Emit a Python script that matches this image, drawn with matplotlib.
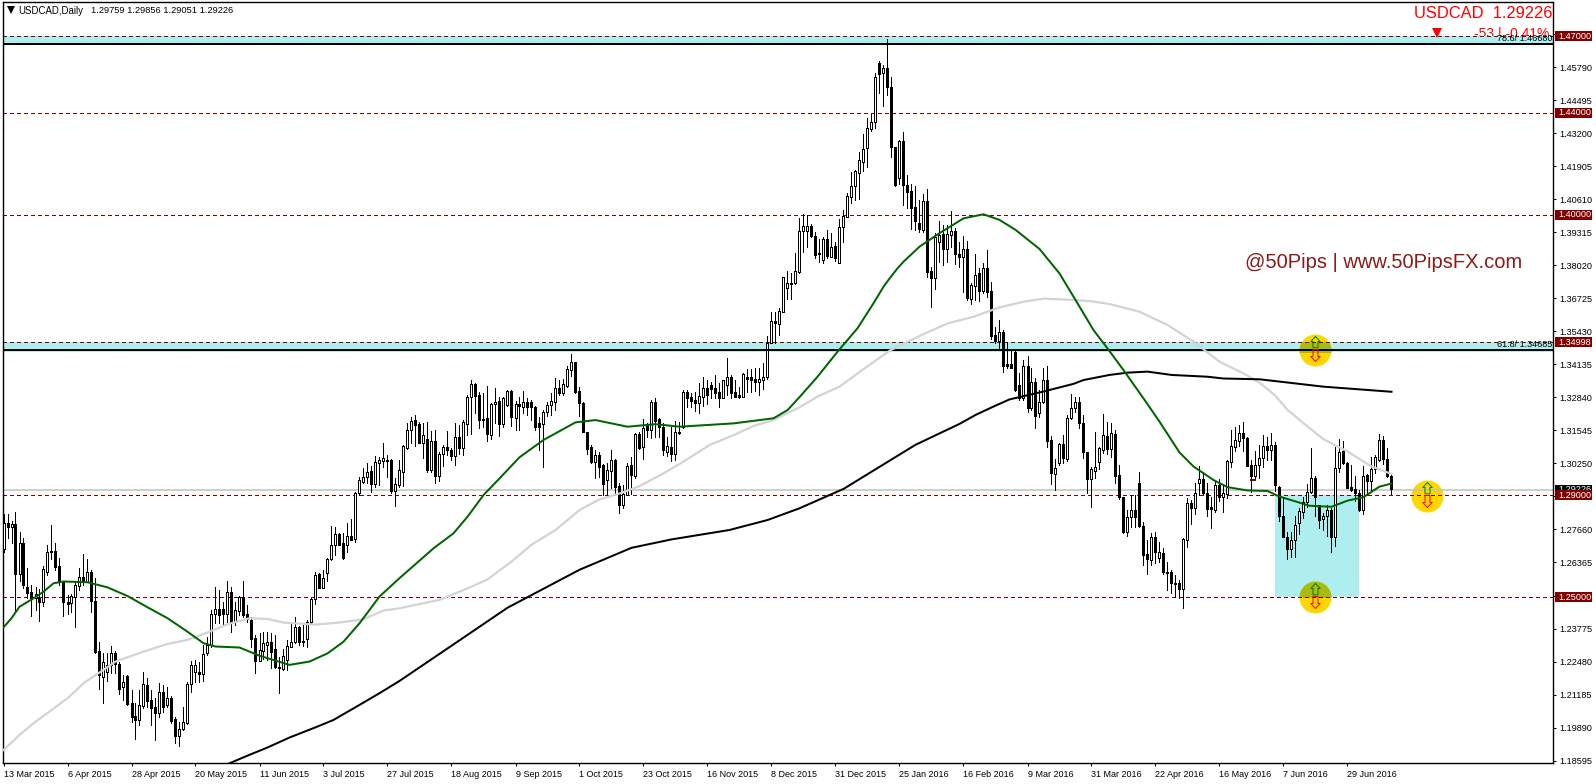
"""USDCAD daily candles with moving averages and levels."""
import numpy as np
import matplotlib
matplotlib.use("Agg")
import matplotlib.pyplot as plt
from matplotlib.patches import Rectangle
from matplotlib.path import Path
from matplotlib.transforms import blended_transform_factory

# prices are kept in 1/10000 units
opens = [
    12688, 12790, 12775, 12788, 12590, 12712, 12542, 12520, 12496, 12496,
    12483, 12598, 12677, 12683, 12623, 12559, 12483, 12479, 12503, 12546,
    12579, 12559, 12601, 12486, 12290, 12189, 12209, 12235, 12283, 12239,
    12147, 12192, 12084, 12035, 12019, 12075, 12156, 12097, 12069, 12048,
    12130, 12078, 12107, 12024, 11958, 11984, 12006, 12159, 12209, 12209,
    12198, 12283, 12313, 12433, 12454, 12453, 12435, 12522, 12402, 12448,
    12503, 12435, 12411, 12339, 12252, 12291, 12311, 12324, 12296, 12228,
    12218, 12254, 12307, 12324, 12385, 12329, 12335, 12402, 12492, 12592,
    12535, 12597, 12649, 12705, 12747, 12712, 12705, 12741, 12727, 12910,
    12953, 12973, 12995, 12945, 13028, 13036, 13037, 13038, 12918, 12940,
    12993, 13087, 13155, 13194, 13179, 13106, 13119, 12999, 13113, 12977,
    13062, 13089, 13077, 13055, 13128, 13087, 13178, 13285, 13336, 13293,
    13198, 13202, 13136, 13257, 13268, 13178, 13254, 13309, 13204, 13258,
    13247, 13266, 13267, 13245, 13182, 13178, 13226, 13253, 13267, 13319,
    13302, 13330, 13391, 13423, 13309, 13263, 13147, 13088, 13029, 13058,
    13019, 12960, 12996, 13038, 12936, 12862, 12901, 13019, 12977, 13140,
    13088, 13179, 13158, 13267, 13198, 13169, 13071, 13090, 13060, 13149,
    13169, 13305, 13284, 13272, 13260, 13287, 13319, 13332, 13319, 13306,
    13283, 13332, 13362, 13306, 13292, 13287, 13362, 13362, 13356, 13343,
    13352, 13365, 13496, 13583, 13572, 13620, 13714, 13730, 13731, 13776,
    13935, 13935, 13955, 13917, 13851, 13823, 13904, 13836, 13878, 13810,
    13951, 13993, 14071, 14111, 14163, 14209, 14260, 14337, 14363, 14596,
    14555, 14575, 14500, 14265, 14143, 14290, 14117, 14094, 14030, 13967,
    13941, 14054, 13780, 13751, 13895, 13925, 13865, 13922, 13937, 13847,
    13833, 13865, 13669, 13722, 13771, 13701, 13790, 13701, 13529, 13505,
    13539, 13414, 13414, 13463, 13333, 13280, 13407, 13244, 13343, 13222,
    13267, 13352, 13117, 12982, 13025, 13100, 13044, 13202, 13241, 13265,
    13182, 13069, 12963, 12997, 13032, 13078, 13133, 13083, 13139, 12980,
    12895, 12755, 12814, 12842, 12947, 12780, 12669, 12646, 12735, 12656,
    12673, 12601, 12601, 12555, 12555, 12531, 12723, 12869, 12852, 12950,
    12963, 12908, 12853, 12843, 12941, 12895, 12906, 13032, 13091, 13111,
    13143, 13124, 13019, 12976, 13017, 13045, 13094, 13076, 13098, 12932,
    12819, 12738, 12690, 12723, 12791, 12836, 12872, 12911, 12967, 12862,
    12806, 12817, 12843, 12738, 13006, 13072, 13026, 12932, 12924, 12908,
    12843, 12980, 12958, 13004, 13039, 13117, 13042, 12976]
closes = [
    12790, 12775, 12786, 12590, 12712, 12548, 12518, 12496, 12512, 12483,
    12610, 12677, 12683, 12620, 12559, 12483, 12475, 12507, 12548, 12579,
    12559, 12598, 12486, 12287, 12196, 12248, 12235, 12280, 12239, 12141,
    12169, 12082, 12032, 12019, 12078, 12159, 12095, 12067, 12048, 12128,
    12071, 12104, 12016, 11958, 11984, 12012, 12159, 12235, 12235, 12198,
    12278, 12313, 12433, 12454, 12431, 12433, 12520, 12398, 12450, 12503,
    12431, 12415, 12335, 12252, 12294, 12320, 12324, 12287, 12228, 12222,
    12270, 12309, 12326, 12385, 12326, 12324, 12402, 12494, 12588, 12538,
    12575, 12649, 12705, 12747, 12705, 12653, 12741, 12725, 12910, 12960,
    12970, 12993, 12945, 13029, 13038, 13045, 13035, 12918, 12943, 12999,
    13093, 13155, 13190, 13177, 13106, 13136, 12999, 13113, 12977, 13062,
    13091, 13077, 13055, 13127, 13087, 13186, 13285, 13336, 13289, 13195,
    13195, 13139, 13258, 13267, 13178, 13280, 13308, 13208, 13258, 13250,
    13264, 13247, 13245, 13169, 13169, 13225, 13253, 13268, 13319, 13302,
    13335, 13395, 13421, 13304, 13263, 13149, 13081, 13029, 13058, 13012,
    12943, 12999, 13038, 12934, 12862, 12905, 13016, 12979, 13139, 13084,
    13162, 13156, 13267, 13191, 13169, 13077, 13093, 13062, 13148, 13143,
    13304, 13280, 13271, 13260, 13289, 13319, 13293, 13315, 13300, 13283,
    13352, 13362, 13302, 13287, 13287, 13375, 13356, 13352, 13343, 13356,
    13362, 13496, 13583, 13577, 13623, 13755, 13731, 13731, 13778, 13935,
    13955, 13955, 13918, 13842, 13845, 13904, 13838, 13875, 13829, 13951,
    13996, 14074, 14111, 14171, 14213, 14257, 14339, 14363, 14539, 14552,
    14575, 14500, 14265, 14117, 14290, 14115, 14091, 14026, 13977, 13943,
    14054, 13777, 13751, 13911, 13921, 13866, 13925, 13937, 13847, 13833,
    13865, 13673, 13725, 13764, 13701, 13790, 13699, 13525, 13505, 13539,
    13408, 13408, 13401, 13313, 13280, 13407, 13244, 13343, 13212, 13267,
    13352, 13114, 12986, 13006, 13100, 13045, 13202, 13241, 13267, 13185,
    13071, 12963, 13003, 13010, 13087, 13135, 13082, 13143, 12977, 12895,
    12757, 12814, 12842, 12814, 12780, 12666, 12650, 12735, 12679, 12676,
    12598, 12597, 12555, 12551, 12531, 12727, 12869, 12852, 12908, 12963,
    12908, 12847, 12845, 12941, 12895, 12908, 13035, 13094, 13117, 13143,
    13123, 13015, 12976, 13019, 13045, 13094, 13076, 13098, 12941, 12817,
    12736, 12690, 12725, 12783, 12839, 12872, 12912, 12967, 12895, 12804,
    12819, 12843, 12738, 13006, 13069, 13026, 12930, 12919, 12908, 12843,
    12977, 12958, 13004, 13052, 13115, 13042, 12974, 12923]
highs = [
    12827, 12827, 12799, 12833, 12758, 12731, 12614, 12548, 12542, 12531,
    12623, 12705, 12784, 12712, 12653, 12562, 12509, 12513, 12562, 12614,
    12669, 12649, 12607, 12575, 12326, 12280, 12280, 12309, 12291, 12248,
    12196, 12196, 12137, 12084, 12137, 12206, 12182, 12137, 12104, 12163,
    12156, 12147, 12111, 12032, 12012, 12069, 12169, 12252, 12254, 12248,
    12313, 12346, 12450, 12542, 12529, 12483, 12565, 12539, 12483, 12505,
    12564, 12470, 12424, 12352, 12359, 12362, 12365, 12359, 12352, 12267,
    12296, 12333, 12405, 12424, 12388, 12392, 12411, 12496, 12601, 12594,
    12607, 12653, 12780, 12777, 12751, 12751, 12790, 12806, 12914, 12970,
    13006, 13025, 13015, 13054, 13049, 13104, 13058, 13041, 12966, 13038,
    13097, 13182, 13208, 13215, 13189, 13182, 13189, 13152, 13156, 13071,
    13097, 13153, 13084, 13182, 13176, 13195, 13293, 13352, 13339, 13306,
    13300, 13328, 13263, 13319, 13287, 13287, 13313, 13313, 13271, 13287,
    13309, 13280, 13273, 13250, 13208, 13234, 13267, 13300, 13361, 13352,
    13358, 13407, 13456, 13424, 13326, 13267, 13149, 13097, 13077, 13071,
    13021, 13025, 13077, 13041, 12947, 12940, 13025, 13051, 13143, 13149,
    13198, 13182, 13273, 13280, 13202, 13182, 13130, 13169, 13192, 13189,
    13313, 13313, 13300, 13306, 13339, 13365, 13352, 13345, 13372, 13339,
    13352, 13437, 13372, 13352, 13326, 13378, 13394, 13394, 13398, 13398,
    13417, 13525, 13620, 13620, 13633, 13755, 13781, 13770, 13849, 13986,
    14003, 13999, 13964, 13934, 13904, 13912, 13940, 13927, 13895, 13982,
    14019, 14084, 14166, 14176, 14248, 14317, 14379, 14396, 14555, 14603,
    14588, 14690, 14542, 14267, 14294, 14324, 14156, 14121, 14113, 14058,
    14082, 14100, 13797, 13928, 13977, 13960, 13960, 14013, 13947, 13895,
    13915, 13899, 13732, 13847, 13790, 13810, 13860, 13735, 13561, 13588,
    13548, 13503, 13470, 13470, 13378, 13431, 13446, 13398, 13359, 13313,
    13398, 13407, 13133, 13041, 13104, 13137, 13215, 13296, 13284, 13284,
    13215, 13071, 13012, 13147, 13091, 13218, 13189, 13182, 13156, 13019,
    12895, 12842, 12901, 12901, 12990, 12797, 12725, 12751, 12757, 12718,
    12692, 12640, 12607, 12588, 12568, 12731, 12889, 12882, 12947, 13015,
    12993, 12947, 12895, 12954, 12963, 12941, 13039, 13157, 13167, 13176,
    13187, 13130, 13039, 13072, 13098, 13137, 13130, 13143, 13108, 12937,
    12889, 12758, 12758, 12817, 12849, 12895, 12945, 13085, 12974, 12862,
    12830, 12862, 12849, 13089, 13121, 13111, 13032, 13019, 12974, 12921,
    13013, 12983, 13052, 13059, 13141, 13133, 13085, 12986]
lows = [
    12679, 12731, 12712, 12448, 12562, 12535, 12496, 12428, 12450, 12409,
    12466, 12588, 12650, 12607, 12548, 12427, 12435, 12444, 12385, 12529,
    12548, 12559, 12444, 12280, 12141, 12087, 12173, 12202, 12202, 12121,
    12097, 12078, 12012, 11945, 11999, 12065, 12071, 11999, 11941, 12032,
    12052, 12071, 12006, 11928, 11917, 11980, 12003, 12130, 12169, 12169,
    12173, 12274, 12307, 12398, 12398, 12392, 12405, 12365, 12392, 12431,
    12424, 12405, 12307, 12202, 12252, 12257, 12254, 12222, 12222, 12126,
    12215, 12215, 12307, 12320, 12313, 12309, 12304, 12398, 12473, 12538,
    12535, 12562, 12646, 12666, 12705, 12649, 12679, 12725, 12718, 12901,
    12947, 12947, 12914, 12934, 12940, 13012, 12973, 12910, 12858, 12934,
    12936, 13080, 13104, 13093, 13104, 13045, 12993, 12993, 12947, 12957,
    13015, 13058, 13038, 13019, 13062, 13058, 13136, 13139, 13221, 13162,
    13169, 13113, 13119, 13182, 13132, 13169, 13250, 13172, 13156, 13156,
    13221, 13215, 13195, 13156, 13077, 13012, 13211, 13215, 13234, 13293,
    13293, 13326, 13368, 13300, 13211, 13149, 13062, 13025, 12966, 12973,
    12901, 12901, 12927, 12907, 12832, 12851, 12901, 12907, 12966, 13080,
    13041, 13130, 13123, 13130, 13130, 13058, 13054, 13036, 13038, 13140,
    13162, 13247, 13245, 13232, 13224, 13250, 13258, 13280, 13280, 13245,
    13280, 13293, 13280, 13287, 13280, 13287, 13306, 13306, 13309, 13293,
    13315, 13355, 13496, 13499, 13529, 13620, 13670, 13670, 13727, 13773,
    13853, 13875, 13914, 13829, 13816, 13810, 13829, 13833, 13820, 13810,
    13895, 13993, 14048, 14058, 14061, 14172, 14186, 14330, 14339, 14479,
    14427, 14470, 14226, 14111, 14121, 14039, 14028, 13946, 13941, 13934,
    13934, 13755, 13637, 13708, 13816, 13803, 13816, 13875, 13807, 13797,
    13699, 13666, 13650, 13666, 13660, 13692, 13679, 13512, 13496, 13470,
    13385, 13398, 13398, 13310, 13274, 13274, 13228, 13235, 13165, 13208,
    13261, 13091, 12944, 12921, 13019, 13028, 13036, 13199, 13228, 13165,
    13048, 12908, 12856, 12967, 13002, 13067, 13062, 13052, 12950, 12884,
    12751, 12742, 12777, 12777, 12777, 12627, 12591, 12627, 12633, 12640,
    12591, 12529, 12516, 12500, 12496, 12459, 12696, 12788, 12827, 12902,
    12904, 12817, 12770, 12836, 12876, 12836, 12889, 13010, 13074, 13094,
    13072, 13013, 12911, 12963, 12967, 13010, 13039, 13039, 12915, 12801,
    12736, 12651, 12660, 12660, 12749, 12810, 12856, 12908, 12817, 12771,
    12762, 12741, 12676, 12702, 12993, 13023, 12928, 12915, 12879, 12840,
    12827, 12902, 12921, 12987, 13036, 13023, 12971, 12905]

green_bars = [0, 2, 4, 7.5, 10, 12.5, 15, 21, 26, 31, 36, 41, 46, 50, 53, 59,
              64, 67.5, 71.5, 76.5, 81, 85, 89, 94, 99, 107.5, 112.5, 116,
              120, 124, 129, 135, 143, 148, 156, 163, 169, 182.5, 192.5, 196,
              199, 203.5, 208.5, 213.5, 217.5, 220, 221.5, 223.5, 225, 229,
              234, 240, 245, 249, 253, 259, 264, 268, 272.5, 276, 280, 285,
              289, 294, 297.5, 302.5, 306, 311, 316, 319, 323, 326.5, 332,
              336, 340, 344, 347]
green_vals = [12382, 12418, 12463, 12496, 12522, 12555, 12562, 12559, 12539,
              12505, 12461, 12418, 12365, 12320, 12307, 12303, 12271, 12254,
              12235, 12248, 12280, 12326, 12398, 12503, 12575, 12692, 12751,
              12816, 12901, 12966, 13049, 13117, 13186, 13195, 13169, 13179,
              13169, 13182, 13202, 13234, 13285, 13365, 13463, 13555, 13653,
              13718, 13750, 13790, 13816, 13875, 13928, 13986, 14002, 13980,
              13941, 13866, 13770, 13666, 13548, 13476, 13391, 13280, 13189,
              13068, 13013, 12960, 12932, 12919, 12917, 12895, 12876, 12859,
              12855, 12879, 12893, 12934, 12946]
gray_bars = [0, 4, 7.5, 11.5, 16, 20, 24, 28, 35, 41, 46, 51, 56, 61.5, 66, 70,
             78, 84, 90, 95, 99, 109, 116, 121, 127, 132, 138, 144, 149, 154,
             159, 165, 170, 176.5, 182.5, 187.5, 192.5, 199, 203.5, 209, 215,
             221.5, 226, 230, 236, 242.5, 249, 255, 260, 265, 271.5, 276.5,
             284, 291, 297.5, 304, 310, 314, 318, 321, 325.5, 330, 336, 342,
             347]
gray_vals = [11901, 11960, 12006, 12052, 12104, 12163, 12205, 12248, 12287,
             12317, 12333, 12362, 12394, 12418, 12415, 12401, 12393, 12401,
             12414, 12448, 12457, 12490, 12535, 12570, 12640, 12706, 12764,
             12842, 12884, 12907, 12936, 12986, 13032, 13097, 13136, 13172,
             13195, 13245, 13287, 13326, 13395, 13467, 13502, 13532, 13574,
             13600, 13637, 13659, 13671, 13668, 13662, 13650, 13620, 13568,
             13503, 13424, 13378, 13342, 13290, 13235, 13176, 13120, 13072,
             13013, 12984]
black_bars = [56.5, 61, 66, 71.5, 78, 82.5, 89, 94, 99, 112, 126, 144, 157, 167,
              181.5, 191, 199, 210, 228, 239, 243, 247.5, 251.5, 260, 267.5,
              270, 276.5, 281, 286, 292, 301, 305, 314, 330, 347]
black_vals = [11849, 11879, 11911, 11950, 11990, 12019, 12078, 12124, 12172,
              12310, 12459, 12608, 12694, 12727, 12764, 12803, 12849, 12925,
              13098, 13180, 13215, 13248, 13276, 13307, 13337, 13352, 13372,
              13381, 13385, 13372, 13365, 13358, 13355, 13326, 13306]

date_labels = ["13 Mar 2015", "6 Apr 2015", "28 Apr 2015", "20 May 2015",
               "11 Jun 2015", "3 Jul 2015", "27 Jul 2015", "18 Aug 2015",
               "9 Sep 2015", "1 Oct 2015", "23 Oct 2015", "16 Nov 2015",
               "8 Dec 2015", "31 Dec 2015", "25 Jan 2016", "16 Feb 2016",
               "9 Mar 2016", "31 Mar 2016", "22 Apr 2016", "16 May 2016",
               "7 Jun 2016", "29 Jun 2016"]
price_ticks = [1.18595, 1.19890, 1.21185, 1.22480, 1.23775, 1.25070, 1.26365,
               1.27660, 1.28955, 1.30250, 1.31545, 1.32840, 1.34135, 1.35430,
               1.36725, 1.38020, 1.39315, 1.40610, 1.41905, 1.43200, 1.44495,
               1.45790, 1.47085]
dashed_levels = [1.47, 1.44, 1.40, 1.34998, 1.29, 1.25]
fib_levels = [1.4668, 1.34685]
fib_names = ["78.6/ 1.46680", "61.8/ 1.34685"]
last_price = 1.29226

FONT = "Liberation Sans"
MAROON = "#800000"
CYAN = "#AFEEEE"
GOLD = "#FFD700"
OLIVE = "#AABB10"
PX = 0.72  # one pixel in points at dpi 100


def arrow_marker(up):
    """Hollow arrow, vertices in pixels from the circle centre."""
    if up:
        pts = [(0, 14), (4.7, 9), (2.5, 9), (2.5, 2.7), (-2.5, 2.7), (-2.5, 9),
               (-4.7, 9), (0, 14)]
        codes = [Path.MOVETO] + [Path.LINETO] * 7
    else:
        # the last two vertices only keep the same scale as the up arrow
        pts = [(0, -11), (4.7, -6), (2.5, -6), (2.5, 1), (-2.5, 1), (-2.5, -6),
               (-4.7, -6), (0, -11), (0, 14), (0, 14)]
        codes = [Path.MOVETO] + [Path.LINETO] * 7 + [Path.MOVETO, Path.MOVETO]
    return Path(pts, codes)


def main():
    """Draw everything and save out.png."""
    dpi = 100
    fig = plt.figure(dpi=dpi, figsize=(15.96, 7.84))
    plt.rcParams["font.family"] = FONT

    def fig_x(px):
        return px / 1596

    def fig_y(py):
        return 1 - py / 784

    axes = fig.add_axes([fig_x(2.5), fig_y(763), (1553 - 2.5) / 1596,
                         (763 - 2) / 784])
    axes.set_xlim(-0.25, 387.375)
    axes.set_ylim(1.18502, 1.48345)

    bars = np.arange(len(opens))
    op_arr = np.array(opens) / 1e4
    cl_arr = np.array(closes) / 1e4
    hi_arr = np.array(highs) / 1e4
    lo_arr = np.array(lows) / 1e4

    # cyan zones behind candles
    box = Rectangle((318, 1.25), 21, 0.04, color=CYAN, lw=0, zorder=1)
    axes.add_patch(box)
    band_top = Rectangle((-0.25, 1.4665), 388, 0.0035, color=CYAN, lw=0,
                         zorder=1)
    axes.add_patch(band_top)
    band_low = Rectangle((-0.25, 1.3462), 388, 0.00378, color=CYAN, lw=0,
                         zorder=1)
    axes.add_patch(band_low)

    # gold circles with the overlapped part darker
    circle_bars = [328, 328, 356]
    circle_prices = [1.25, 1.3468, 1.2897]
    axes.scatter(circle_bars, circle_prices, s=530, color=GOLD, linewidths=0,
                 zorder=1.5)
    olive1 = axes.scatter(circle_bars[0], circle_prices[0], s=530, color=OLIVE,
                          linewidths=0, zorder=1.6)
    olive1.set_clip_path(box)
    olive2 = axes.scatter(circle_bars[1], circle_prices[1], s=530, color=OLIVE,
                          linewidths=0, zorder=1.6)
    olive2.set_clip_path(band_low)

    axes.axhline(last_price, color="#C0C0C0", lw=1.5 * PX, zorder=2)
    for level in dashed_levels:
        axes.axhline(level, color=MAROON, lw=PX, ls=(0, (4, 3)), zorder=2.5,
                     antialiased=False)

    # candles
    axes.vlines(bars, lo_arr, hi_arr, color="black", lw=PX, zorder=3,
                antialiased=False)
    rising = cl_arr >= op_arr
    axes.bar(bars[rising], (cl_arr - op_arr)[rising], bottom=op_arr[rising],
             width=0.5, facecolor="white", edgecolor="black", linewidth=PX,
             zorder=3.2, antialiased=False)
    axes.bar(bars[~rising], (op_arr - cl_arr)[~rising], bottom=cl_arr[~rising],
             width=0.5, facecolor="black", edgecolor="black", linewidth=PX,
             zorder=3.2, antialiased=False)

    for level in fib_levels:
        axes.axhline(level, color="black", lw=2 * PX, zorder=4)

    # small stray mark near the June high
    axes.hlines([1.2960], [311.7], [313.2], color="#8B0000", lw=2 * PX, zorder=4)

    # moving averages
    axes.plot(gray_bars, np.array(gray_vals) / 1e4, color="#D3D3D3",
              lw=2.2 * PX, zorder=5)
    axes.plot(black_bars, np.array(black_vals) / 1e4, color="black",
              lw=2 * PX, zorder=5)
    axes.plot(green_bars, np.array(green_vals) / 1e4, color="#006400",
              lw=2 * PX, zorder=5.1)

    # arrows in the circles
    axes.plot(circle_bars, circle_prices, ls="", marker=arrow_marker(True),
              ms=20.16, mfc="none", mec="#008000", mew=PX, zorder=6)
    axes.plot(circle_bars, circle_prices, ls="", marker=arrow_marker(False),
              ms=20.16, mfc="none", mec="#FF0000", mew=PX, zorder=6)

    # red triangle by the last price
    axes.plot([358.3], [1.4713], ls="", marker="v", ms=7.5, color="red",
              mew=0, zorder=6)

    # axes furniture
    for spine in axes.spines.values():
        spine.set_linewidth(1.4 * PX)
        spine.set_color("black")
    axes.yaxis.tick_right()
    axes.set_yticks(price_ticks)
    axes.set_yticklabels(["%.5f" % tick for tick in price_ticks], fontsize=6.6,
                         fontfamily=FONT)
    axes.tick_params(axis="y", length=2.5, width=PX, pad=2.2)
    date_bars = np.arange(0, 16 * len(date_labels), 16)
    axes.set_xticks(date_bars)
    axes.set_xticklabels(date_labels, fontsize=6.5, ha="left",
                         fontfamily=FONT)
    axes.tick_params(axis="x", length=2.5, width=PX, pad=2.2)

    # price tags on the right side
    tag_trans = blended_transform_factory(fig.transFigure, axes.transData)
    tag_height = 10 / 2550
    axes.add_patch(Rectangle((fig_x(1555), last_price - 0.5 * tag_height),
                             37 / 1596, tag_height, transform=tag_trans,
                             color="black", lw=0, clip_on=False, zorder=7))
    axes.text(fig_x(1558), last_price, "%.5f" % last_price, color="white",
              fontsize=6.6, va="center", transform=tag_trans, clip_on=False,
              zorder=7.1)
    for level in dashed_levels:
        axes.add_patch(Rectangle((fig_x(1555), level - 0.5 * tag_height),
                                 37 / 1596, tag_height, transform=tag_trans,
                                 color=MAROON, lw=0, clip_on=False, zorder=8))
        axes.text(fig_x(1558), level, "%.5f" % level, color="white",
                  fontsize=6.6, va="center", transform=tag_trans,
                  clip_on=False, zorder=8.1)

    # fib names, right aligned on the zones
    fib_trans = blended_transform_factory(axes.transAxes, axes.transData)
    for level, name in zip(fib_levels, fib_names):
        axes.text(0.9995, level + 0.0022, name, fontsize=6.5, color="black",
                  ha="right", va="center", transform=fib_trans, zorder=6)

    # header texts
    fig.text(fig_x(18), fig_y(10.5), "USDCAD,Daily", fontsize=6.9, va="center",
             color="black")
    fig.text(fig_x(91), fig_y(10.5), "1.29759 1.29856 1.29051 1.29226",
             fontsize=6.7, va="center", color="black")
    axes.plot([fig_x(10.5)], [fig_y(10)], ls="", marker="v", ms=5.5,
              color="black", mew=0, transform=fig.transFigure, clip_on=False)
    fig.text(fig_x(1552), fig_y(13.5), "USDCAD  1.29226", fontsize=11.9,
             color="red", ha="right", va="center")
    axes.text(fig_x(1549), fig_y(38), "-53 | -0.41%", fontsize=10, color="red",
              ha="right", va="baseline", transform=fig.transFigure, zorder=0.5)
    fig.text(fig_x(1245), fig_y(262), "@50Pips | www.50PipsFX.com",
             fontsize=14.5, color="#8B1A1A", va="center")

    fig.savefig("out.png", dpi=dpi)


if __name__ == "__main__":
    main()
